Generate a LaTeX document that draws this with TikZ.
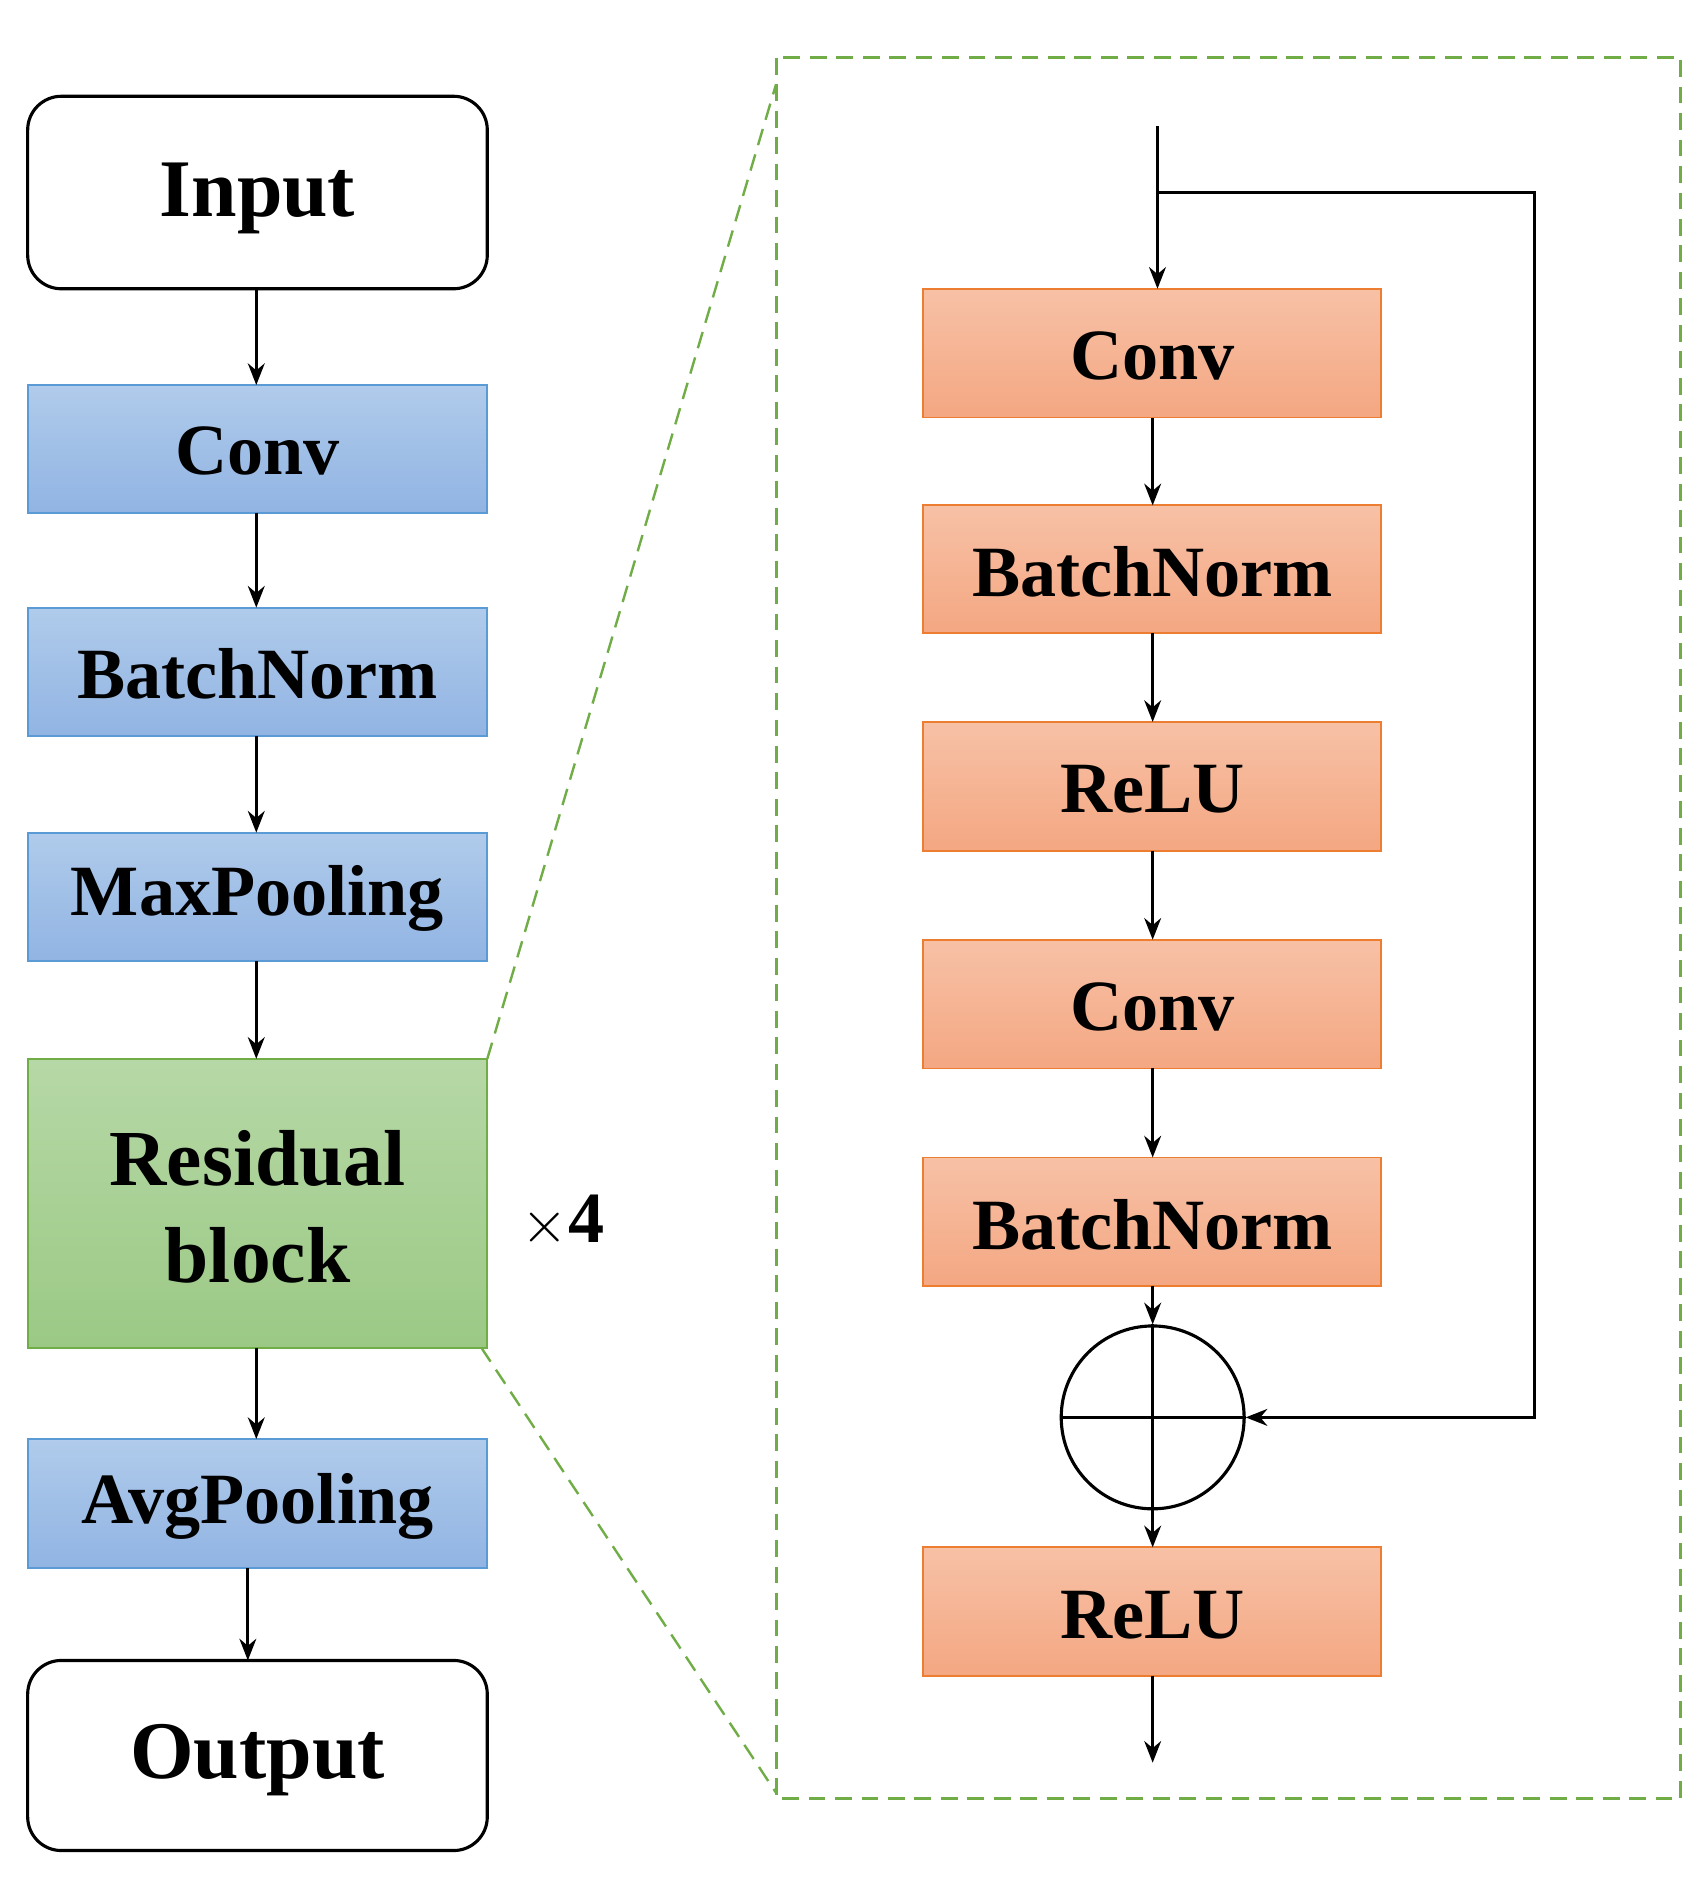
\documentclass[tikz,border=0pt]{standalone}
\usepackage{fontspec}
\setmainfont{Liberation Serif}
\usetikzlibrary{arrows.meta}
\begin{document}
\begin{tikzpicture}[x=0.5pt,y=-0.5pt,
 lbl/.style={font=\fontsize{30}{34}\selectfont\bfseries},
 blue/.style={draw=blue!50!cyan!60!black!70,top color=blue!20!cyan!10!white!80!blue, bottom color=blue!35!cyan!15!white!70!blue,line width=0.8pt},
 arr/.style={-{Stealth[length=9pt,width=7pt]},line width=1.2pt}]
\definecolor{bT}{HTML}{B0CBEB}\definecolor{bB}{HTML}{91B4E3}\definecolor{bD}{HTML}{5B9BD5}
\definecolor{oT}{HTML}{F7C1A6}\definecolor{oB}{HTML}{F4A782}\definecolor{oD}{HTML}{ED7D31}
\definecolor{gT}{HTML}{B6D8A6}\definecolor{gB}{HTML}{9BC985}\definecolor{gD}{HTML}{70AD47}
\tikzset{bb/.style={draw=bD,top color=bT,bottom color=bB,line width=0.8pt},
 ob/.style={draw=oD,top color=oT,bottom color=oB,line width=0.8pt},
 gb/.style={draw=gD,top color=gT,bottom color=gB,line width=0.8pt},
 rb/.style={draw,rounded corners=14pt,line width=1.3pt}}
\useasboundingbox (0,0) rectangle (1415,1560);
% left column
\draw[rb] (23,80) rectangle (405,240); \node[lbl,font=\fontsize{34}{38}\selectfont\bfseries] (in) at (214,165) {Input};
\draw[bb] (23,320) rectangle (405,426); \node[lbl] (c1) at (214,375) {Conv};
\draw[bb] (23,505) rectangle (405,612); \node[lbl] (b1) at (214,560) {BatchNorm};
\draw[bb] (23,692) rectangle (405,799); \node[lbl] (m1) at (214,747) {MaxPooling};
\draw[gb] (23,880) rectangle (405,1120); \node[lbl,align=center,font=\fontsize{33}{40}\selectfont\bfseries] (r1) at (214,1003) {Residual\\block};
\draw[bb] (23,1196) rectangle (405,1303); \node[lbl] (a1) at (214,1252) {AvgPooling};
\draw[rb] (23,1380) rectangle (405,1538); \node[lbl,font=\fontsize{34}{38}\selectfont\bfseries] (o1) at (214,1463) {Output};
\node[lbl] (x4) at (468,1015) {$\times$4};
\coordinate (p0) at (213,240); \coordinate (p1) at (213,320);
\draw[arr] (213,240) -- (213,320);
\draw[arr] (213,426) -- (213,505);
\draw[arr] (213,612) -- (213,692);
\draw[arr] (213,799) -- (213,880);
\draw[arr] (213,1120) -- (213,1196);
\draw[arr] (206,1303) -- (206,1380);
% zoom box
\draw[gD,dashed,line width=1.2pt,dash pattern=on 7pt off 4pt] (645,48) rectangle (1397,1495);
\draw[gD,dashed,line width=1pt,dash pattern=on 7pt off 4pt] (405,880) -- (645,70);
\draw[gD,dashed,line width=1pt,dash pattern=on 7pt off 4pt] (400,1120) -- (645,1490);
% right column
\draw[ob] (767,240) rectangle (1148,347); \node[lbl] at (958,296) {Conv};
\draw[ob] (767,420) rectangle (1148,526); \node[lbl] at (958,475) {BatchNorm};
\draw[ob] (767,600) rectangle (1148,707); \node[lbl] at (958,656) {ReLU};
\draw[ob] (767,781) rectangle (1148,888); \node[lbl] at (958,837) {Conv};
\draw[ob] (767,962) rectangle (1148,1069); \node[lbl] at (958,1018) {BatchNorm};
\draw[ob] (767,1286) rectangle (1148,1393); \node[lbl] at (958,1342) {ReLU};
\node[draw,circle,minimum size=76pt,line width=1.3pt,inner sep=0pt] (plus) at (958,1178) {};
\draw[line width=1.3pt] (plus.north) -- (plus.south) (plus.west) -- (plus.east);
\draw[arr] (962,105) -- (962,240);
\draw[arr] (962,160) -- (1275,160) -- (1275,1178) -- (plus.east);
\draw[arr] (958,347) -- (958,420);
\draw[arr] (958,526) -- (958,600);
\draw[arr] (958,707) -- (958,781);
\draw[arr] (958,888) -- (958,962);
\draw[arr] (958,1069) -- (plus.north);
\draw[arr] (plus.south) -- (958,1286);
\draw[arr] (958,1393) -- (958,1465);
\end{tikzpicture}
\end{document}
